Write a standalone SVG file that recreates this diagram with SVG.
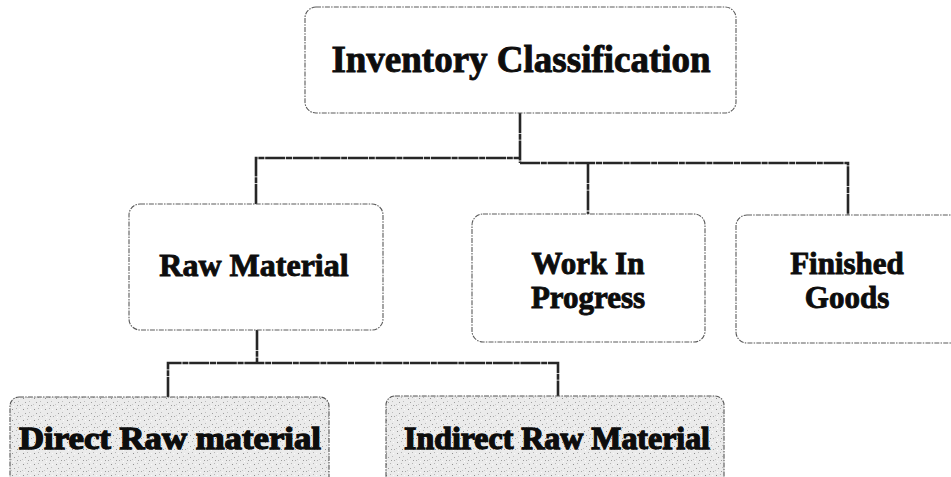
<svg xmlns="http://www.w3.org/2000/svg" width="951" height="477" viewBox="0 0 951 477">
  <style>
    .box { fill: #ffffff; stroke: #5a5a5a; stroke-width: 1.1; stroke-dasharray: 5 1.2 1.5 1.2; }
    .sub { fill: url(#grain); stroke: #555555; stroke-width: 1.1; stroke-dasharray: 5 1.2 1.5 1.2; }
    .lbl { font-family: "Liberation Serif", "Times New Roman", serif; font-weight: bold; fill: #0d0d0d; stroke: #0d0d0d; stroke-width: 0.9; text-anchor: middle; }
    .subLbl { font-family: "Liberation Serif", "Times New Roman", serif; font-weight: bold; fill: #0d0d0d; stroke: #0d0d0d; stroke-width: 1.3; text-anchor: middle; }
    .wire { fill: none; stroke: #262626; stroke-width: 2.6; stroke-dasharray: 20 0.8 6 0.8; }
  </style>
  <defs>
    <!-- stippled light-grey fill for the lower tier -->
    <pattern id="grain" width="11" height="11" patternUnits="userSpaceOnUse">
      <rect width="11" height="11" fill="#ebebeb"/>
      <rect x="1" y="2" width="1" height="1" fill="#8f8f8f"/>
      <rect x="5" y="1" width="1" height="1" fill="#b5b5b5"/>
      <rect x="3" y="6" width="1" height="1" fill="#a0a0a0"/>
      <rect x="7" y="5" width="1" height="1" fill="#bdbdbd"/>
      <rect x="9" y="9" width="1" height="1" fill="#a8a8a8"/>
      <rect x="0" y="8" width="1" height="1" fill="#c8c8c8"/>
      <rect x="8" y="2" width="1" height="1" fill="#fafafa"/>
      <rect x="6" y="9" width="1" height="1" fill="#9b9b9b"/>
      <rect x="2" y="10" width="1" height="1" fill="#fafafa"/>
    </pattern>
  </defs>

  <rect width="951" height="477" fill="#ffffff"/>

  <g id="connectors">
    <path class="wire" d="M520 113 V163"/>
    <path class="wire" d="M256 204 V158 H520"/>
    <path class="wire" d="M520 163 H848 V215"/>
    <path class="wire" d="M588 163 V214"/>
    <path class="wire" d="M257 330 V363"/>
    <path class="wire" d="M168 397 V363 H558 V396"/>
  </g>

  <g id="inventory-classification">
    <rect class="box" x="305" y="7" width="431" height="106" rx="11"/>
    <text class="lbl" x="521" y="72" font-size="37">Inventory Classification</text>
  </g>

  <g id="raw-material">
    <rect class="box" x="129" y="204" width="254" height="126" rx="11"/>
    <text class="lbl" x="254" y="276" font-size="32">Raw Material</text>
  </g>

  <g id="work-in-progress">
    <rect class="box" x="472" y="214" width="233" height="128" rx="11"/>
    <text class="lbl" x="588" y="274" font-size="31">Work In</text>
    <text class="lbl" x="588" y="308" font-size="31">Progress</text>
  </g>

  <g id="finished-goods">
    <rect class="box" x="736" y="215" width="226" height="128" rx="11"/>
    <text class="lbl" x="847" y="274" font-size="31">Finished</text>
    <text class="lbl" x="847" y="308" font-size="31">Goods</text>
  </g>

  <g id="direct-raw-material">
    <rect class="sub" x="10" y="397" width="319" height="100" rx="9"/>
    <text class="subLbl" x="170" y="449" font-size="31" textLength="302" lengthAdjust="spacingAndGlyphs">Direct Raw material</text>
  </g>

  <g id="indirect-raw-material">
    <rect class="sub" x="386" y="396" width="338" height="100" rx="9"/>
    <text class="subLbl" x="557" y="449" font-size="31" textLength="306" lengthAdjust="spacingAndGlyphs">Indirect Raw Material</text>
  </g>
</svg>
